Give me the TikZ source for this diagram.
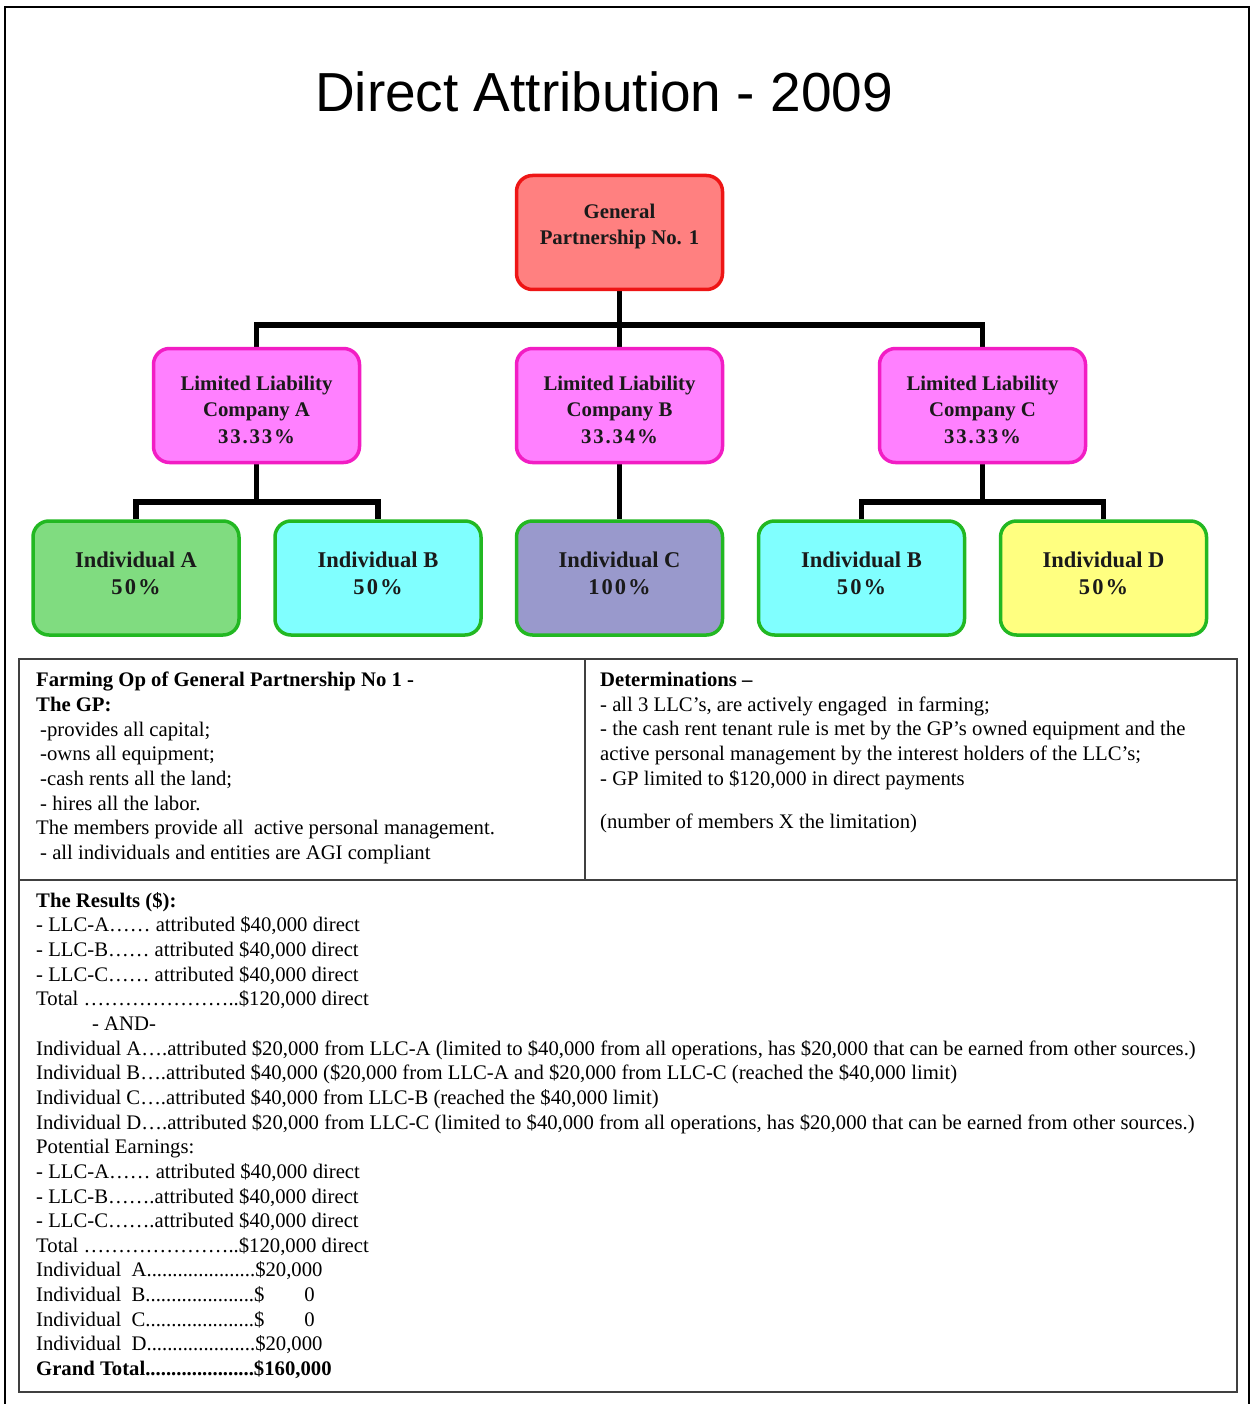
\documentclass[tikz,border=0pt]{standalone}
\usepackage{fontspec}
\setmainfont{Liberation Serif}
\newfontfamily\titlefont{Liberation Sans}
\usetikzlibrary{backgrounds}
\definecolor{gpfill}{HTML}{FF8080}
\definecolor{gpdraw}{HTML}{EE1515}
\definecolor{llcfill}{HTML}{FF80FF}
\definecolor{llcdraw}{HTML}{F21DC4}
\definecolor{inddraw}{HTML}{22B822}
\definecolor{indAfill}{HTML}{80DC80}
\definecolor{cyanfill}{HTML}{80FFFF}
\definecolor{indCfill}{HTML}{9999CC}
\definecolor{indDfill}{HTML}{FFFF80}
\definecolor{boxtext}{HTML}{1A1A1A}
\definecolor{tablegray}{HTML}{404040}
\newcommand{\pct}[1]{{\addfontfeature{LetterSpace=9}#1}}
\tikzset{
  orgbox/.style={rounded corners=16pt, line width=3.5pt, minimum width=206pt, minimum height=114pt,
    align=center, inner sep=0pt, text=boxtext,
    font=\fontsize{20.8}{26.5}\selectfont\bfseries},
  gpbox/.style={orgbox, fill=gpfill, draw=gpdraw},
  llcbox/.style={orgbox, fill=llcfill, draw=llcdraw},
  indbox/.style={orgbox, draw=inddraw, font=\fontsize{22.5}{27}\selectfont\bfseries},
  conn/.style={line width=5.5pt, draw=black, line join=miter},
  cell/.style={anchor=north west, inner sep=0pt, align=left,
    font=\fontsize{20.7}{24.65}\selectfont},
}
\begin{document}
\begin{tikzpicture}[x=1pt,y=-1pt]
\useasboundingbox (0,0) rectangle (1254,1404);
\draw[line width=2.5pt] (5,1410) -- (5,7) -- (1249,7) -- (1249,1410);
\node[font=\titlefont\fontsize{55}{60}\selectfont, anchor=base] (title) at (604,112) {Direct Attribution - 2009};

\node[gpbox] (gp) at (619.5,232.5) {General\\Partnership No. 1\\[-10.5pt]};
\node[llcbox] (llcA) at (256.5,405.5) {\rule{0pt}{22.5pt}Limited Liability\\Company A\\\pct{33.33\%}};
\node[llcbox] (llcB) at (619.5,405.5) {\rule{0pt}{22.5pt}Limited Liability\\Company B\\\pct{33.34\%}};
\node[llcbox] (llcC) at (982.5,405.5) {\rule{0pt}{22.5pt}Limited Liability\\Company C\\\pct{33.33\%}};
\node[indbox, fill=indAfill] (indA) at (136,578) {Individual A\\\pct{50\%}\\[-18pt]};
\node[indbox, fill=cyanfill] (indB) at (378,578) {Individual B\\\pct{50\%}\\[-18pt]};
\node[indbox, fill=indCfill] (indC) at (619.5,578) {Individual C\\\pct{100\%}\\[-18pt]};
\node[indbox, fill=cyanfill] (indBB) at (861.5,578) {Individual B\\\pct{50\%}\\[-18pt]};
\node[indbox, fill=indDfill] (indD) at (1103.5,578) {Individual D\\\pct{50\%}\\[-18pt]};

\coordinate (j1) at (619.5,325);
\coordinate (j2) at (256.5,502);
\coordinate (j3) at (982.5,502);
\begin{scope}[on background layer]
\fill[white] (0,0) rectangle (1254,1404);
\draw[conn] (gp.south) -- (j1);
\draw[conn] (llcA.north) |- (j1) -| (llcC.north);
\draw[conn] (j1) -- (llcB.north);
\draw[conn] (llcA.south) -- (j2);
\draw[conn] (indA.north) |- (j2) -| (indB.north);
\draw[conn] (llcB.south) -- (indC.north);
\draw[conn] (llcC.south) -- (j3);
\draw[conn] (indBB.north) |- (j3) -| (indD.north);
\end{scope}

% table
\draw[tablegray, line width=1.6pt] (19,659) rectangle (1237,1392);
\draw[tablegray, line width=1.6pt] (19,880) -- (1237,880);
\draw[tablegray, line width=1.6pt] (585,659) -- (585,880);

\node[cell] (farm) at (36,672) {%
\textbf{Farming Op of General Partnership No 1 -}\\
\textbf{The GP:}\\
\hspace{4pt}-provides all capital;\\
\hspace{4pt}-owns all equipment;\\
\hspace{4pt}-cash rents all the land;\\
\hspace{4pt}- hires all the labor.\\
The members provide all\ \ active personal management.\\
\hspace{4pt}- all individuals and entities are AGI compliant};

\node[cell] (det) at (600,672) {%
\textbf{Determinations –}\\
- all 3 LLC’s, are actively engaged\ \ in farming;\\
- the cash rent tenant rule is met by the GP’s owned equipment and the\\
active personal management by the interest holders of the LLC’s;\\
- GP limited to \$120,000 in direct payments\\[19pt]
(number of members X the limitation)};

\node[cell] (res) at (36,892) {%
\textbf{The Results (\$):}\\
- LLC-A…… attributed \$40,000 direct\\
- LLC-B…… attributed \$40,000 direct\\
- LLC-C…… attributed \$40,000 direct\\
Total …………………..\$120,000 direct\\
\hspace{56pt}- AND-\\
Individual A….attributed \$20,000 from LLC-A (limited to \$40,000 from all operations, has \$20,000 that can be earned from other sources.)\\
Individual B….attributed \$40,000 (\$20,000 from LLC-A and \$20,000 from LLC-C (reached the \$40,000 limit)\\
Individual C….attributed \$40,000 from LLC-B (reached the \$40,000 limit)\\
Individual D….attributed \$20,000 from LLC-C (limited to \$40,000 from all operations, has \$20,000 that can be earned from other sources.)\\
Potential Earnings:\\
- LLC-A…… attributed \$40,000 direct\\
- LLC-B…….attributed \$40,000 direct\\
- LLC-C…….attributed \$40,000 direct\\
Total …………………..\$120,000 direct\\
Individual\ \ A.....................\$20,000\\
Individual\ \ B.....................\$\hspace{40pt}0\\
Individual\ \ C.....................\$\hspace{40pt}0\\
Individual\ \ D.....................\$20,000\\
\textbf{Grand Total.....................\$160,000}};
\end{tikzpicture}
\end{document}
